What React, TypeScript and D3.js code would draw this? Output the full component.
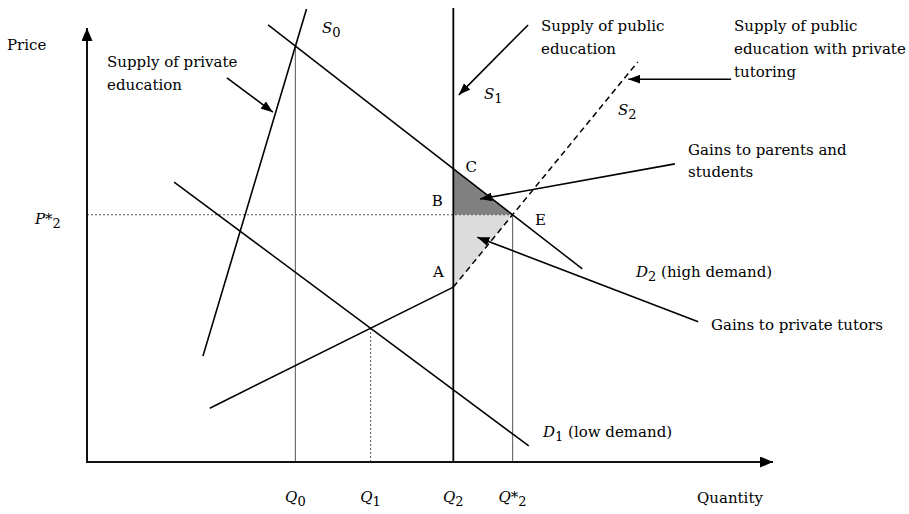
import React, { useEffect, useRef } from "react";
import * as d3 from "d3";

type Pt = [number, number];

// quantity and price in chart units, both axes run 0..100
const privateSupply: Pt[] = [[16.9, 24.4], [32.0, 104.4]];
const publicSupplyQ = 53.4;
const publicSupplyTop = 104.6;
const tutorSupplyLow: Pt[] = [[17.9, 12.4], [53.4, 40.3]];
const tutorSupplyHigh: Pt[] = [[53.4, 40.3], [80.3, 92.2]];
const lowDemand: Pt[] = [[12.7, 64.5], [64.4, 3.7]];
const highDemand: Pt[] = [[26.4, 100.7], [72.2, 44.5]];

// annotation arrows: [from, to]
const arrows: Pt[][] = [
  [[20.4, 88.5], [27.1, 80.6]],
  [[64.3, 100.7], [54.2, 84.6]],
  [[93.9, 88.2], [78.9, 88.2]],
  [[85.7, 68.7], [57.3, 60.6]],
  [[89.1, 32.3], [56.9, 51.8]]
];

const qLabels = ["Q", "Q", "Q", "Q"];
const qStars = ["", "", "", "*"];
const qSubs = ["0", "1", "2", "2"];

const FONT = "'DejaVu Serif', serif";

function intersect(a: Pt[], b: Pt[]): Pt {
  const [[x1, y1], [x2, y2]] = a;
  const [[x3, y3], [x4, y4]] = b;
  const den = (x1 - x2) * (y3 - y4) - (y1 - y2) * (x3 - x4);
  const t = ((x1 - x3) * (y3 - y4) - (y1 - y3) * (x3 - x4)) / den;
  return [x1 + t * (x2 - x1), y1 + t * (y2 - y1)];
}

function App() {
  const ref = useRef<SVGSVGElement>(null);

  useEffect(() => {
    const svg = d3.select(ref.current);
    svg.selectAll("*").remove();

    const x = d3.scaleLinear().domain([0, 100]).range([87, 773]);
    const y = d3.scaleLinear().domain([0, 100]).range([462, 28]);

    const defs = svg.append("defs");
    const marker = (id: string, w: number, h: number) =>
      defs
        .append("marker")
        .attr("id", id)
        .attr("markerUnits", "userSpaceOnUse")
        .attr("markerWidth", w)
        .attr("markerHeight", h)
        .attr("refX", w)
        .attr("refY", h / 2)
        .attr("orient", "auto")
        .append("path")
        .attr("d", `M0,0 L${w},${h / 2} L0,${h} Z`)
        .attr("fill", "#000");
    marker("axisHead", 13, 11);
    marker("head", 12, 9);

    const vLine: Pt[] = [[publicSupplyQ, 0], [publicSupplyQ, publicSupplyTop]];
    const C = intersect(highDemand, vLine);
    const E = intersect(highDemand, tutorSupplyHigh);
    const A = tutorSupplyHigh[0];
    const B: Pt = [publicSupplyQ, E[1]];
    const q0 = intersect(privateSupply, highDemand);
    const q1 = intersect(lowDemand, tutorSupplyLow);
    const qTicks = [q0[0], q1[0], publicSupplyQ, E[0]];

    const line = d3
      .line<Pt>()
      .x(d => x(d[0]))
      .y(d => y(d[1]));

    // shaded gains
    svg.append("path").attr("d", line([C, B, E]) + "Z").attr("fill", "#808080");
    svg.append("path").attr("d", line([B, E, A]) + "Z").attr("fill", "#dcdcdc");

    // guide lines
    const guides: [Pt[], string, string | null][] = [
      [[[q0[0], 0], q0], "#6f6f6f", null],
      [[[E[0], 0], E], "#6f6f6f", null],
      [[[q1[0], 0], q1], "#555", "2,2"],
      [[[0, E[1]], E], "#555", "2,2"]
    ];
    guides.forEach(([pts, col, dash]) => {
      svg
        .append("path")
        .attr("d", line(pts))
        .attr("stroke", col)
        .attr("stroke-width", dash ? 1 : 1.2)
        .attr("stroke-dasharray", dash)
        .attr("fill", "none");
    });

    // curves
    const curves: [Pt[], number, string | null][] = [
      [privateSupply, 1.6, null],
      [vLine, 1.8, null],
      [tutorSupplyLow, 1.6, null],
      [tutorSupplyHigh, 1.5, "6,4"],
      [lowDemand, 1.5, null],
      [highDemand, 1.5, null]
    ];
    curves.forEach(([pts, w, dash]) => {
      svg
        .append("path")
        .attr("d", line(pts))
        .attr("stroke", "#000")
        .attr("stroke-width", w)
        .attr("stroke-dasharray", dash)
        .attr("fill", "none");
    });

    // axes
    svg
      .append("line")
      .attr("x1", x(0))
      .attr("y1", y(0))
      .attr("x2", x(0))
      .attr("y2", y(100))
      .attr("stroke", "#111")
      .attr("stroke-width", 2)
      .attr("marker-end", "url(#axisHead)");
    svg
      .append("line")
      .attr("x1", x(0) - 1)
      .attr("y1", y(0))
      .attr("x2", x(100))
      .attr("y2", y(0))
      .attr("stroke", "#111")
      .attr("stroke-width", 2)
      .attr("marker-end", "url(#axisHead)");

    // arrows
    arrows.forEach(pts => {
      svg
        .append("path")
        .attr("d", line(pts))
        .attr("stroke", "#000")
        .attr("stroke-width", 1.6)
        .attr("fill", "none")
        .attr("marker-end", "url(#head)");
    });

    const txt = (
      px: number,
      py: number,
      main: string,
      sub?: string,
      italic?: boolean,
      anchor = "start",
      star = ""
    ) => {
      const t = svg
        .append("text")
        .attr("x", px)
        .attr("y", py)
        .attr("font-family", FONT)
        .attr("font-size", 15)
        .attr("text-anchor", anchor)
        .attr("fill", "#000");
      t.append("tspan").attr("font-style", italic ? "italic" : "normal").text(main);
      if (star) t.append("tspan").text(star);
      if (sub) {
        t.append("tspan").attr("font-size", 13).attr("dy", 4).text(sub);
      }
      return t;
    };

    txt(7, 50, "Price");
    txt(107, 67, "Supply of private");
    txt(107, 90, "education");
    txt(322, 33, "S", "0", true);
    txt(541, 31, "Supply of public");
    txt(541, 54, "education");
    txt(484, 99, "S", "1", true);
    txt(734, 31, "Supply of public");
    txt(734, 54, "education with private");
    txt(734, 77, "tutoring");
    txt(618, 115, "S", "2", true);
    txt(688, 155, "Gains to parents and");
    txt(688, 177, "students");
    txt(x(C[0]) + 18, y(C[1]) + 3, "C", undefined, false, "middle");
    txt(x(B[0]) - 16, y(B[1]) - 9, "B", undefined, false, "middle");
    txt(x(E[0]) + 28, y(E[1]) + 10, "E", undefined, false, "middle");
    txt(x(A[0]) - 15, y(A[1]) - 10, "A", undefined, false, "middle");
    txt(35, 224, "P", "2", true, "start", "*");
    txt(636, 277, "D", "2", true).append("tspan").attr("dy", -4).text("  (high demand)");
    txt(711, 330, "Gains to private tutors");
    txt(543, 437, "D", "1", true).append("tspan").attr("dy", -4).text(" (low demand)");

    qTicks.forEach((q, i) => {
      txt(x(q), 502, qLabels[i], qSubs[i], true, "middle", qStars[i]);
    });
    txt(697, 503, "Quantity");
  }, []);

  return (
    <svg
      ref={ref}
      width={909}
      height={514}
      style={{ position: "absolute", left: 0, top: 0, background: "#fff" }}
    />
  );
}

export default App;
